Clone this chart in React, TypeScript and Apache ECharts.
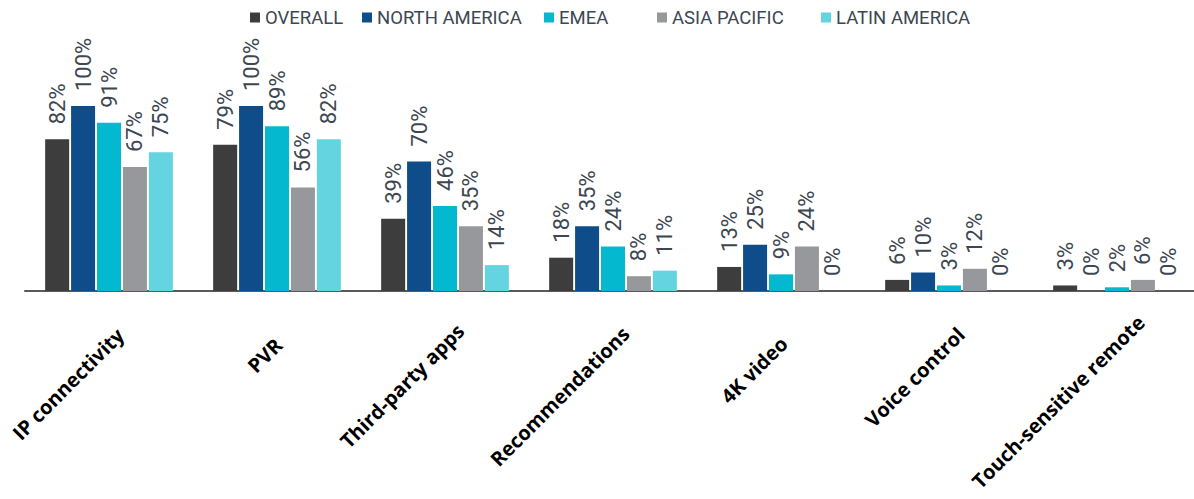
import React, { useEffect, useRef } from "react";
import * as echarts from "echarts";

const categories = [
  "IP connectivity",
  "PVR",
  "Third-party apps",
  "Recommendations",
  "4K video",
  "Voice control",
  "Touch-sensitive remote",
];
const seriesNames = ["OVERALL", "NORTH AMERICA", "EMEA", "ASIA PACIFIC", "LATIN AMERICA"];
const overall = [82, 79, 39, 18, 13, 6, 3];
const northAmerica = [100, 100, 70, 35, 25, 10, 0];
const emea = [91, 89, 46, 24, 9, 3, 2];
const asiaPacific = [67, 56, 35, 8, 24, 12, 6];
const latinAmerica = [75, 82, 14, 11, 0, 0, 0];

// styling only
const colors = ["#3d3d3d", "#0e4c8a", "#04b9cf", "#97989c", "#64d4e0"];
const legendLefts = [250, 362, 544, 657, 821];
const labelShift = [16, 2, 22, 18, 4, 17, 34];

export default function App() {
  const ref = useRef<HTMLDivElement>(null);
  useEffect(() => {
    if (!ref.current) return;
    const chart = echarts.init(ref.current, null, { renderer: "svg" });
    const values = [overall, northAmerica, emea, asiaPacific, latinAmerica];
    const labelColor = "#3c4751";
    const numFont = "Roboto, sans-serif";
    chart.setOption({
      animation: false,
      color: colors,
      legend: seriesNames.map((n, i) => ({
        data: [n],
        left: legendLefts[i],
        top: 8,
        padding: 0,
        itemWidth: 10,
        itemHeight: 10,
        icon: "rect",
        selectedMode: false,
        textStyle: {
          color: labelColor,
          fontFamily: numFont,
          fontSize: 18.5,
          padding: [4, 0, 0, 0],
        },
      })),
      grid: {
        left: 25,
        width: 1176,
        top: 106,
        bottom: 208,
        containLabel: false,
        outerBoundsMode: "none",
      },
      xAxis: {
        type: "category",
        data: categories.map((c, i) => ({
          value: c,
          textStyle: { padding: [0, -labelShift[i], 0, 0] },
        })),
        axisLine: { show: true, lineStyle: { color: "#5a5a5a", width: 2 } },
        axisTick: { show: false },
        axisLabel: {
          interval: 0,
          rotate: 45,
          margin: 52,
          color: "#000",
          fontFamily: "'Open Sans', sans-serif",
          fontWeight: "bold",
          fontSize: 20,
          hideOverlap: false,
        },
      },
      yAxis: {
        type: "value",
        min: 0,
        max: 100,
        show: false,
        splitLine: { show: false },
      },
      series: values.map((v, i) => ({
        name: seriesNames[i],
        type: "bar",
        data: v,
        barWidth: 24,
        barGap: "8%",
        itemStyle: { color: colors[i] },
        label: {
          show: true,
          position: "top",
          rotate: 90,
          align: "left",
          verticalAlign: "middle",
          distance: 15,
          formatter: "{c}%",
          color: labelColor,
          fontFamily: numFont,
          fontSize: 22,
        },
      })),
    });
    return () => chart.dispose();
  }, []);
  return (
    <div
      ref={ref}
      style={{ position: "absolute", left: 0, top: 0, width: 1194, height: 499 }}
    />
  );
}
